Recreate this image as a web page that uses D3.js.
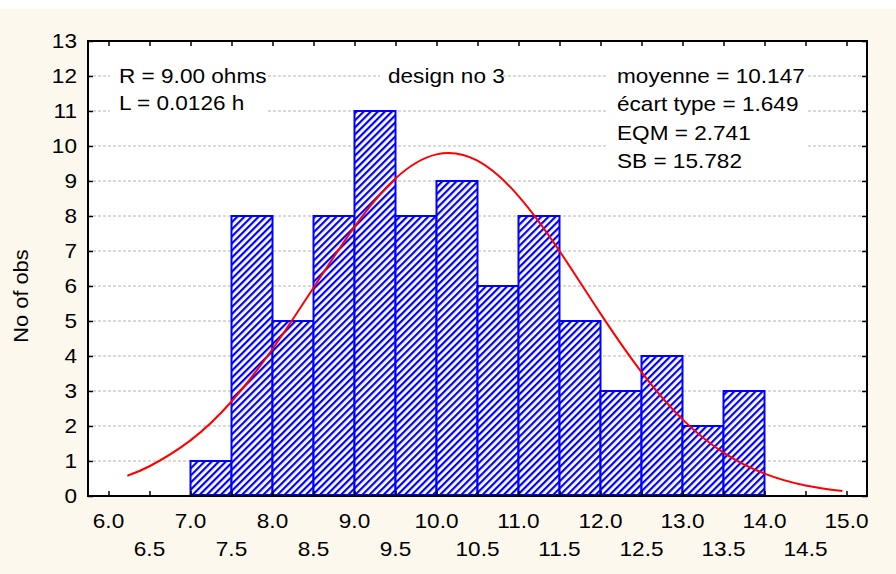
<!DOCTYPE html>
<html>
<head>
<meta charset="utf-8">
<style>
body { margin:0; background:#ffffff; }
svg { display:block; }
text { font-family:"Liberation Sans", Arial, sans-serif; fill:#000; font-size:20px; }
</style>
<script src="https://cdn.jsdelivr.net/npm/d3@7"></script>
</head>
<body>
<svg id="chart" width="896" height="574"></svg>
<script>
// histogram bins (lower edge, width 0.5) and counts
var binStarts = [6.5, 7.0, 7.5, 8.0, 8.5, 9.0, 9.5, 10.0, 10.5, 11.0, 11.5, 12.0, 12.5, 13.0, 13.5];
var binCounts = [0, 1, 8, 5, 8, 11, 8, 9, 6, 8, 5, 3, 4, 2, 3];
var binWidth = 0.5;

// fitted curve
var curveX = [6.23, 6.5, 7.0, 7.5, 8.0, 8.5, 9.0, 9.5, 10.0, 10.5, 11.0, 11.5, 12.0, 12.5, 13.0, 13.5, 14.0, 14.5, 14.95];
var curveY = [0.58, 0.85, 1.59, 2.70, 4.20, 5.95, 7.69, 9.07, 9.76, 9.58, 8.57, 7.00, 5.21, 3.54, 2.19, 1.24, 0.64, 0.30, 0.14];

var xTicks = [6.0, 6.5, 7.0, 7.5, 8.0, 8.5, 9.0, 9.5, 10.0, 10.5, 11.0, 11.5, 12.0, 12.5, 13.0, 13.5, 14.0, 14.5, 15.0];
var yTicks = [0, 1, 2, 3, 4, 5, 6, 7, 8, 9, 10, 11, 12, 13];

var leftNote = ["R = 9.00 ohms", "L = 0.0126 h"];
var titleNote = "design no 3";
var statsNote = ["moyenne = 10.147", "\u00e9cart type = 1.649", "EQM = 2.741", "SB = 15.782"];
var yLabel = "No of obs";

var svg = d3.select("#chart");
var L = 88, R = 867, T = 41, B = 496;
var SX = 1.13; // text in the original is a bit wider than Arial

var x = d3.scaleLinear().domain([5.75, 15.25]).range([L, R]);
var y = d3.scaleLinear().domain([0, 13]).range([B, T]);

// backgrounds
svg.append("rect").attr("x", 0).attr("y", 9).attr("width", 896).attr("height", 565).attr("fill", "#fdf8ee");
svg.append("rect").attr("x", L).attr("y", T).attr("width", R - L).attr("height", B - T).attr("fill", "#ffffff");

// hatch pattern: "/" stripes
var defs = svg.append("defs");
var pat = defs.append("pattern").attr("id", "hatch").attr("patternUnits", "userSpaceOnUse")
  .attr("width", 5).attr("height", 5).attr("patternTransform", "rotate(45)");
pat.append("rect").attr("width", 5).attr("height", 5).attr("fill", "#ffffff");
pat.append("rect").attr("x", 0).attr("y", 0).attr("width", 2.2).attr("height", 5).attr("fill", "#0000ff");

// gridlines
svg.append("g").selectAll("line").data(yTicks.filter(function(d) { return d > 0 && d < 13; })).enter()
  .append("line")
  .attr("x1", L).attr("x2", R)
  .attr("y1", function(d) { return y(d); }).attr("y2", function(d) { return y(d); })
  .attr("stroke", "#b4b4b4").attr("stroke-width", 1).attr("stroke-dasharray", "3,2");

// text boxes hide the grid
svg.append("rect").attr("x", 110).attr("y", 58).attr("width", 158).attr("height", 58).attr("fill", "#fff");
svg.append("rect").attr("x", 380).attr("y", 62).attr("width", 120).attr("height", 30).attr("fill", "#fff");
svg.append("rect").attr("x", 608).attr("y", 60).attr("width", 200).attr("height", 113).attr("fill", "#fff");

// bars
var bins = binStarts.map(function(s, i) { return {x0: s, x1: s + binWidth, n: binCounts[i]}; });
svg.append("g").selectAll("rect").data(bins).enter().append("rect")
  .attr("x", function(d) { return x(d.x0); })
  .attr("y", function(d) { return y(d.n); })
  .attr("width", function(d) { return x(d.x1) - x(d.x0); })
  .attr("height", function(d) { return Math.max(0, y(0) - y(d.n) - 1); })
  .attr("fill", "url(#hatch)")
  .attr("stroke", "#0000ff").attr("stroke-width", 2);

// fitted curve
var pts = curveX.map(function(v, i) { return [v, curveY[i]]; });
svg.append("path").datum(pts)
  .attr("d", d3.line().x(function(d) { return x(d[0]); }).y(function(d) { return y(d[1]); }).curve(d3.curveNatural))
  .attr("fill", "none").attr("stroke", "#ff0000").attr("stroke-width", 2);

// axes frame with inward ticks
function styleAxis(g) {
  g.select(".domain").remove();
  g.selectAll(".tick line").attr("stroke", "#000").attr("stroke-width", 1.5);
  g.selectAll(".tick text").remove();
}
svg.append("g").attr("transform", "translate(0," + B + ")")
  .call(d3.axisBottom(x).tickValues(xTicks).tickSize(-5)).call(styleAxis);
svg.append("g").attr("transform", "translate(0," + T + ")")
  .call(d3.axisTop(x).tickValues(xTicks).tickSize(-5)).call(styleAxis);
svg.append("g").attr("transform", "translate(" + L + ",0)")
  .call(d3.axisLeft(y).tickValues(yTicks).tickSize(-5)).call(styleAxis);
svg.append("g").attr("transform", "translate(" + R + ",0)")
  .call(d3.axisRight(y).tickValues(yTicks).tickSize(-5)).call(styleAxis);
svg.append("rect").attr("x", L).attr("y", T).attr("width", R - L).attr("height", B - T)
  .attr("fill", "none").attr("stroke", "#000").attr("stroke-width", 2);

// text helper, stretched horizontally
function put(g, tx, ty, s, anchor) {
  return g.append("text")
    .attr("transform", "translate(" + tx + "," + ty + ") scale(" + SX + ",1)")
    .attr("text-anchor", anchor || "start")
    .text(s);
}

// tick labels
var tl = svg.append("g");
xTicks.forEach(function(d, i) {
  put(tl, x(d), i % 2 === 0 ? 528 : 556, d.toFixed(1), "middle");
});
yTicks.forEach(function(d) {
  put(tl, 77, y(d) + 7, String(d), "end");
});

put(svg, 28, 296, yLabel, "middle").attr("transform", "translate(28,296) rotate(-90) scale(1.09,1)");

// notes
leftNote.forEach(function(s, i) { put(svg, 119, 83 + i * 27, s); });
put(svg, 388, 83, titleNote);
statsNote.forEach(function(s, i) { put(svg, 617, 83 + i * 28.3, s); });
</script>
</body>
</html>
